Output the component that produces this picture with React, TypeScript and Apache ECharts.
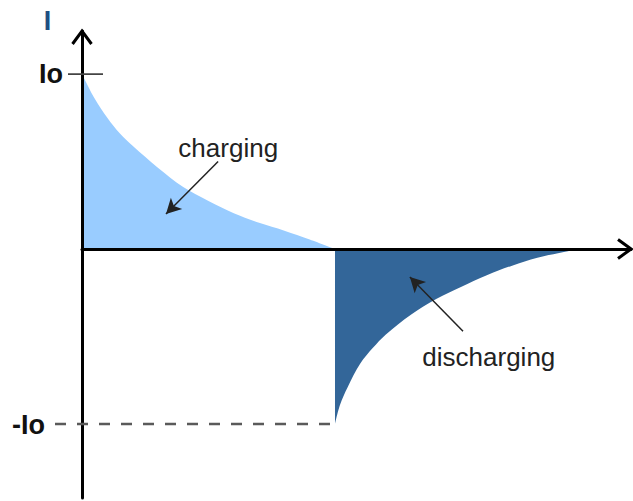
import React, { useEffect, useRef } from "react";
import * as echarts from "echarts";

// charging current (time in arbitrary units, current in units of Io)
const timeCharge = [0, 0.25, 0.5, 0.75, 1.0, 1.5, 2.0, 2.5, 3.0, 3.5, 4.0, 4.5, 5.0];
const currentCharge = [1, 0.86, 0.75, 0.66, 0.59, 0.465, 0.355, 0.275, 0.205, 0.15, 0.105, 0.055, 0];
// discharging current
const timeDischarge = [5.0, 5.1, 5.25, 5.5, 5.75, 6.0, 6.5, 7.0, 7.5, 8.0, 8.5, 9.0, 9.5, 9.84];
const currentDischarge = [-1, -0.89, -0.79, -0.655, -0.565, -0.49, -0.375, -0.285, -0.215, -0.15, -0.095, -0.05, -0.018, 0];
// level markers
const levelValues = [1, -1];
const levelLabels = ["Io", "-Io"];
const axisName = "I";
const annotationTexts = ["charging", "discharging"];

const X_MAX = 10.85;
const Y_MIN = -1.423;
const Y_MAX = 1.246;

export default function App() {
  const ref = useRef<HTMLDivElement>(null);

  useEffect(() => {
    if (!ref.current) return;
    const chart = echarts.init(ref.current, null, { renderer: "svg" });
    const chargeData = timeCharge.map((t, i) => [t, currentCharge[i]]);
    const dischargeData = timeDischarge.map((t, i) => [t, currentDischarge[i]]);

    chart.setOption({
      animation: false,
      backgroundColor: "#ffffff",
      grid: { left: 82, right: 2, top: 31, bottom: 3, containLabel: false },
      xAxis: {
        type: "value",
        min: 0,
        max: X_MAX,
        z: 5,
        axisLine: { show: true, onZero: true, lineStyle: { color: "#000", width: 3 } },
        axisTick: { show: false },
        axisLabel: { show: false },
        splitLine: { show: false },
      },
      yAxis: {
        type: "value",
        min: Y_MIN,
        max: Y_MAX,
        z: 5,
        axisLine: { show: true, onZero: false, lineStyle: { color: "#000", width: 3 } },
        axisTick: { show: false },
        axisLabel: { show: false },
        splitLine: { show: false },
      },
      series: [
        {
          type: "line",
          data: chargeData,
          showSymbol: false,
          smooth: 0.35,
          lineStyle: { width: 0, opacity: 0 },
          areaStyle: { color: "#99ccff", opacity: 1 },
          silent: true,
          z: 2,
          markLine: {
            silent: true,
            symbol: ["none", "arrow"],
            symbolSize: [12, 15],
            label: { show: false },
            lineStyle: { color: "#222", width: 1.5, type: "solid" },
            data: [
              [{ coord: [2.69, 0.5] }, { coord: [1.66, 0.2] }],
            ],
          },
        },
        {
          type: "line",
          data: dischargeData,
          showSymbol: false,
          smooth: 0.35,
          lineStyle: { width: 0, opacity: 0 },
          areaStyle: { color: "#336699", opacity: 1 },
          silent: true,
          z: 2,
          markLine: {
            silent: true,
            symbol: ["none", "arrow"],
            symbolSize: [12, 15],
            label: { show: false },
            lineStyle: { color: "#222", width: 1.5, type: "solid" },
            data: [
              [{ coord: [7.53, -0.47] }, { coord: [6.48, -0.16] }],
            ],
          },
        },
      ],
    });

    const px = (x: number, y: number) => chart.convertToPixel({ gridIndex: 0 }, [x, y]) as number[];
    const origin = px(0, 0);
    const top = px(0, Y_MAX);
    const right = px(X_MAX, 0);
    const ioP = px(0, levelValues[0]);
    const negP = px(timeDischarge[0], levelValues[1]);
    const chargeLbl = px(2.89, 0.577);
    const dischargeLbl = px(8.04, -0.615);

    const font = "'Liberation Sans', Arial, sans-serif";

    chart.setOption({
      graphic: [
        {
          type: "polyline",
          z: 100,
          shape: { points: [[origin[0] - 9.5, top[1] + 13], [origin[0], top[1]], [origin[0] + 9.5, top[1] + 13]] },
          style: { stroke: "#000", lineWidth: 3, fill: "none" },
        },
        {
          type: "polyline",
          z: 100,
          shape: { points: [[right[0] - 13, origin[1] - 9.5], [right[0], origin[1]], [right[0] - 13, origin[1] + 9.5]] },
          style: { stroke: "#000", lineWidth: 3, fill: "none" },
        },
        {
          type: "line",
          z: 100,
          shape: { x1: origin[0] - 14, y1: ioP[1], x2: origin[0] + 21, y2: ioP[1] },
          style: { stroke: "#444", lineWidth: 1.8 },
        },
        {
          type: "line",
          z: 100,
          shape: { x1: 55, y1: negP[1], x2: negP[0], y2: negP[1] },
          style: { stroke: "#5a5a5a", lineWidth: 2.5, lineDash: [11, 11] },
        },
        {
          type: "text",
          z: 100,
          x: 63,
          y: ioP[1],
          style: { text: levelLabels[0], font: `bold 27px ${font}`, fill: "#111", align: "right", verticalAlign: "middle" },
        },
        {
          type: "text",
          z: 100,
          x: 45,
          y: negP[1] + 1.5,
          style: { text: levelLabels[1], font: `bold 27px ${font}`, fill: "#111", align: "right", verticalAlign: "middle" },
        },
        {
          type: "text",
          z: 100,
          x: 47.5,
          y: top[1] - 10,
          style: { text: axisName, font: `bold 27px ${font}`, fill: "#1f4f82", align: "center", verticalAlign: "middle" },
        },
        {
          type: "text",
          z: 100,
          x: chargeLbl[0],
          y: chargeLbl[1],
          style: { text: annotationTexts[0], font: `26px ${font}`, fill: "#222", align: "center", verticalAlign: "middle" },
        },
        {
          type: "text",
          z: 100,
          x: dischargeLbl[0],
          y: dischargeLbl[1],
          style: { text: annotationTexts[1], font: `26px ${font}`, fill: "#222", align: "center", verticalAlign: "middle" },
        },
      ],
    });

    return () => chart.dispose();
  }, []);

  return (
    <div
      ref={ref}
      style={{ position: "fixed", left: 0, top: 0, width: 633, height: 501, background: "#fff" }}
    />
  );
}
